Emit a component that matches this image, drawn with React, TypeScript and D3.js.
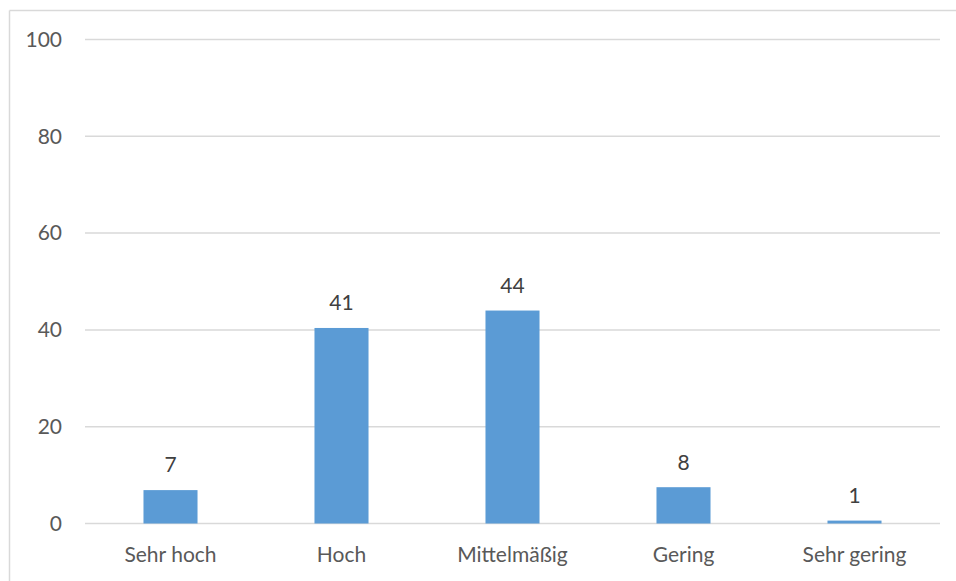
import React from "react";
import * as d3 from "d3";

const categories: string[] = ["Sehr hoch", "Hoch", "Mittelmäßig", "Gering", "Sehr gering"];
const values: number[] = [6.9, 40.4, 44.0, 7.5, 0.6];
const labels: string[] = ["7", "41", "44", "8", "1"];
const yTicks: number[] = [0, 20, 40, 60, 80, 100];

export default function App() {
  const W = 956;
  const H = 581;
  const left = 85;
  const right = 940;
  const top = 39.5;
  const bottom = 523.5;

  const x = d3.scaleBand<string>().domain(categories).range([left, right]).paddingInner(0.684).paddingOuter(0.342);
  const y = d3.scaleLinear().domain([0, 100]).range([bottom, top]);
  const font = "Lato, 'Open Sans', sans-serif";
  const textColor = "#595959";
  const fs = 21;

  return (
    <svg width={W} height={H} style={{ position: "absolute", left: 0, top: 0, background: "#fff" }}>
      <rect x={0} y={0} width={W} height={H} fill="#fff" />
      <line x1={9.5} x2={W} y1={10.5} y2={10.5} stroke="#d9d9d9" strokeWidth={1.5} />
      <line x1={9.5} x2={9.5} y1={10.5} y2={H} stroke="#d9d9d9" strokeWidth={1.5} />
      {yTicks.map((t) => (
        <g key={t}>
          <line x1={left} x2={right} y1={y(t)} y2={y(t)} stroke="#d9d9d9" strokeWidth={1.5} />
          <text x={62} y={y(t)} dy="0.35em" textAnchor="end" fontFamily={font} fontSize={fs} fill={textColor}>
            {t}
          </text>
        </g>
      ))}
      {categories.map((c, i) => (
        <g key={c}>
          <rect x={x(c)} y={y(values[i])} width={x.bandwidth()} height={y(0) - y(values[i])} fill="#5B9BD5" />
          <text
            x={(x(c) as number) + x.bandwidth() / 2}
            y={y(values[i]) - 25}
            dy="0.35em"
            textAnchor="middle"
            fontFamily={font}
            fontSize={fs}
            fill="#404040"
          >
            {labels[i]}
          </text>
          <text
            x={(x(c) as number) + x.bandwidth() / 2}
            y={555}
            dy="0.35em"
            textAnchor="middle"
            fontFamily={font}
            fontSize={fs}
            fill={textColor}
          >
            {c}
          </text>
        </g>
      ))}
    </svg>
  );
}
